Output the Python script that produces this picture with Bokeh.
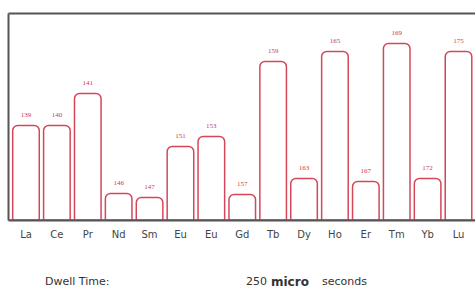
from bokeh.plotting import figure
from bokeh.models import ColumnDataSource, FixedTicker, LinearAxis, Range1d, Div, LabelSet
from bokeh.layouts import column
from bokeh.embed import file_html
from bokeh.resources import INLINE

# ---- data ----
elements = ["La", "Ce", "Pr", "Nd", "Sm", "Eu", "Eu", "Gd", "Tb", "Dy", "Ho", "Er", "Tm", "Yb", "Lu"]
masses = ["139", "140", "141", "146", "147", "151", "153", "157", "159", "163", "165", "167", "169", "172", "175"]
intensity = [95, 95, 127, 27, 23, 74, 84, 26, 159, 42, 169, 39, 177, 42, 169]

positions = list(range(len(elements)))
src = ColumnDataSource(dict(x=positions, top=intensity, label=masses))

RED = "#d4475a"
GRAY = "#555555"

p = figure(width=475, height=250, output_backend="svg", toolbar_location=None,
           x_range=Range1d(-0.566, 14.55), y_range=Range1d(0, 207),
           min_border_left=8, min_border_right=0, min_border_top=13, min_border_bottom=30,
           outline_line_color=None, background_fill_color="white", border_fill_color="white")
p.grid.visible = False

p.vbar(x="x", top="top", bottom=0, width=0.86, source=src, fill_color="white",
       line_color=RED, line_width=1.5, border_radius=(5, 5, 0, 0))
p.line(x=[-0.566, 14.55], y=[0.5, 0.5], line_color=RED, line_width=1.5)

labels = LabelSet(x="x", y="top", text="label", source=src, y_offset=9,
                  text_align="center", text_baseline="bottom",
                  text_font="DejaVu Sans", text_font_size="7px", text_color="#c8404e")
p.add_layout(labels)

xa = p.xaxis[0]
xa.ticker = FixedTicker(ticks=positions)
xa.major_label_overrides = {i: e for i, e in enumerate(elements)}
xa.major_tick_line_color = None
xa.minor_tick_line_color = None
xa.axis_line_color = GRAY
xa.axis_line_width = 2
xa.major_label_text_font = "DejaVu Sans"
xa.major_label_text_font_size = "10px"
xa.major_label_text_color = "#444444"
xa.major_label_standoff = 2

ya = p.yaxis[0]
ya.ticker = FixedTicker(ticks=[])
ya.major_tick_line_color = None
ya.minor_tick_line_color = None
ya.axis_line_color = GRAY
ya.axis_line_width = 2
ya.major_label_standoff = 0

top = LinearAxis(ticker=FixedTicker(ticks=[]), axis_line_color=GRAY, axis_line_width=2,
                 major_tick_line_color=None, minor_tick_line_color=None, major_label_standoff=0)
p.add_layout(top, "above")

div = Div(width=475, height=46, margin=0, text=(
    '<div style="position:relative;width:475px;height:46px;font-family:\'DejaVu Sans\';'
    'font-size:11px;color:#333;line-height:12px;">'
    '<span style="position:absolute;left:45px;top:26px;">Dwell Time:</span>'
    '<span style="position:absolute;left:246px;top:26px;">250</span>'
    '<span style="position:absolute;left:271px;top:26px;font-weight:bold;font-size:12px;">micro</span>'
    '<span style="position:absolute;left:322px;top:26px;">seconds</span>'
    '</div>'))

layout = column(p, div, spacing=0)
open("out.html", "w").write(file_html(layout, INLINE))
